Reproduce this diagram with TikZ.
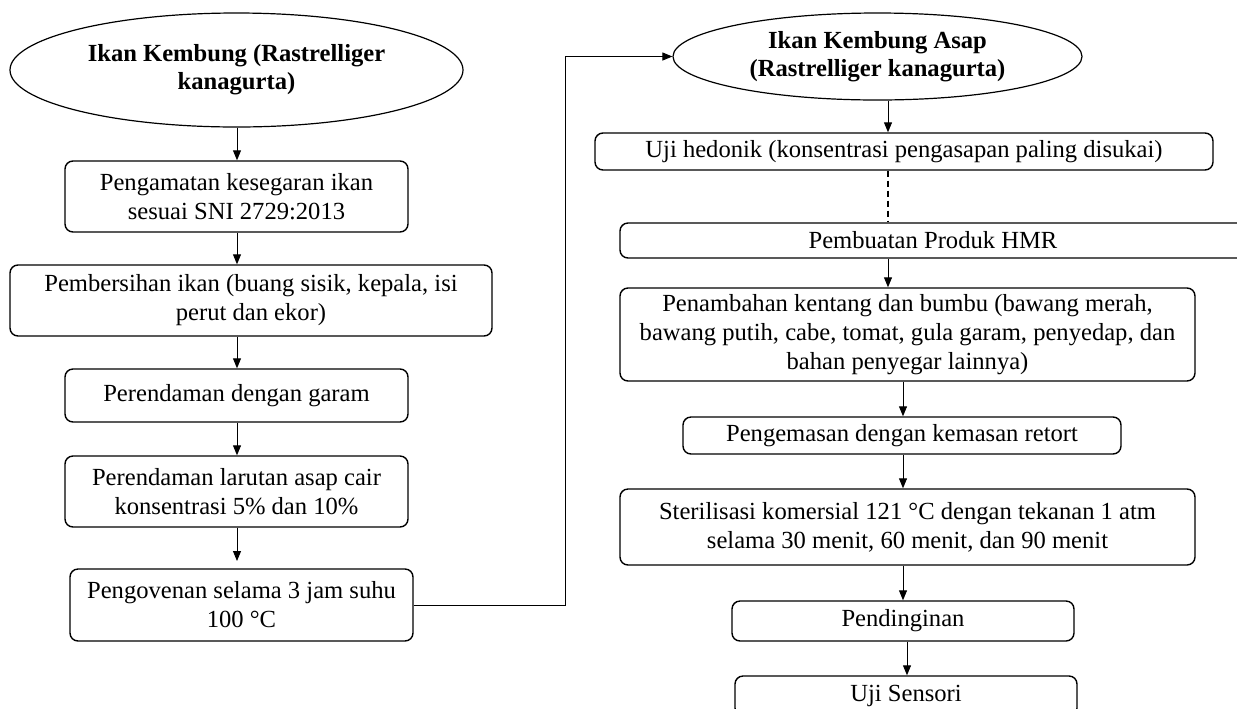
\documentclass[tikz,border=0pt]{standalone}
\usepackage{fontspec}
\setmainfont{Liberation Serif}
\usetikzlibrary{shapes.geometric,arrows.meta,calc}
\begin{document}
\begin{tikzpicture}[x=0.5pt,y=-0.5pt,
  every node/.style={font=\fontsize{12.3pt}{14.5pt}\selectfont, align=center, inner sep=0pt},
  oval/.style={ellipse, draw, line width=0.6pt, font=\fontsize{12.3pt}{14pt}\selectfont\bfseries},
  stepbox/.style={draw, rounded corners=4pt, line width=0.7pt},
  conn/.style={line width=0.5pt},
  arr/.style={conn, -{Triangle[length=5pt,width=4pt]}}
]
\clip (0,0) rectangle (1237,708);
\fill[white] (0,0) rectangle (1237,708);

% left column
\node[oval, minimum width=226.5pt, minimum height=57pt] (e1) at (236.5,70) {Ikan Kembung (Rastrelliger\\kanagurta)};
\node[stepbox, minimum width=171.5pt, minimum height=35.5pt] (b2) at (236.5,196.5) {Pengamatan kesegaran ikan\\sesuai SNI 2729:2013};
\node[stepbox, minimum width=241pt, minimum height=35.5pt] (b3) at (251,300.5) {Pembersihan ikan (buang sisik, kepala, isi\\perut dan ekor)};
\node[stepbox, minimum width=171.5pt, minimum height=26.5pt] (b4) at (236.5,395.5) {Perendaman dengan garam};
\node[stepbox, minimum width=171.5pt, minimum height=35.5pt] (b5) at (236.5,491.5) {Perendaman larutan asap cair\\konsentrasi 5\% dan 10\%};
\node[stepbox, minimum width=171.5pt, minimum height=36pt] (b6) at (241.5,605) {Pengovenan selama 3 jam suhu\\100 °C};

% right column
\node[oval, minimum width=204.5pt, minimum height=43.5pt] (e2) at (877.5,56.5) {Ikan Kembung Asap\\(Rastrelliger kanagurta)};
\node[stepbox, minimum width=309pt, minimum height=18.5pt] (r1) at (904,151.5) {Uji hedonik (konsentrasi pengasapan paling disukai)};
\node[stepbox, minimum width=313pt, minimum height=17.5pt] (r2) at (933,240.5) {Pembuatan Produk HMR};
\node[stepbox, minimum width=287.5pt, minimum height=46.5pt] (r3) at (907.5,334.5) {Penambahan kentang dan bumbu (bawang merah,\\bawang putih, cabe, tomat, gula garam, penyedap, dan\\bahan penyegar lainnya)};
\node[stepbox, minimum width=219pt, minimum height=18.5pt] (r4) at (902,435.5) {Pengemasan dengan kemasan retort};
\node[stepbox, minimum width=287.5pt, minimum height=38pt] (r5) at (907.5,527) {Sterilisasi komersial 121 °C dengan tekanan 1 atm\\selama 30 menit, 60 menit, dan 90 menit};
\node[stepbox, minimum width=171pt, minimum height=20pt] (r6) at (903,621) {Pendinginan};
\node[stepbox, minimum width=171pt, minimum height=20pt] (r7) at (906,696) {Uji Sensori};

% helper coordinates
\coordinate (xl) at (237,0);
\coordinate (xr) at (888,0);
\coordinate (xr2) at (903,0);
\coordinate (xr3) at (907,0);
\coordinate (gap) at (237,561);
\coordinate (vx) at (565,0);

% left arrows
\draw[arr] (e1.south -| xl) -- (b2.north -| xl);
\draw[arr] (b2.south -| xl) -- (b3.north -| xl);
\draw[arr] (b3.south -| xl) -- (b4.north -| xl);
\draw[arr] (b4.south -| xl) -- (b5.north -| xl);
\draw[arr] (b5.south -| xl) -- (gap);

% cross connector
\draw[arr] (b6.east) -- (b6.east -| vx) -- (vx |- e2.west) -- (e2.west);

% right arrows
\draw[arr] (e2.south -| xr) -- (r1.north -| xr);
\draw[line width=0.6pt, dash pattern=on 3pt off 2pt] (r1.south -| xr) -- (r2.north -| xr);
\draw[arr] (r2.south -| xr) -- (r3.north -| xr);
\draw[arr] (r3.south -| xr2) -- (r4.north -| xr2);
\draw[arr] (r4.south -| xr2) -- (r5.north -| xr2);
\draw[arr] (r5.south -| xr2) -- (r6.north -| xr2);
\draw[arr] (r6.south -| xr3) -- (r7.north -| xr3);
\end{tikzpicture}
\end{document}
